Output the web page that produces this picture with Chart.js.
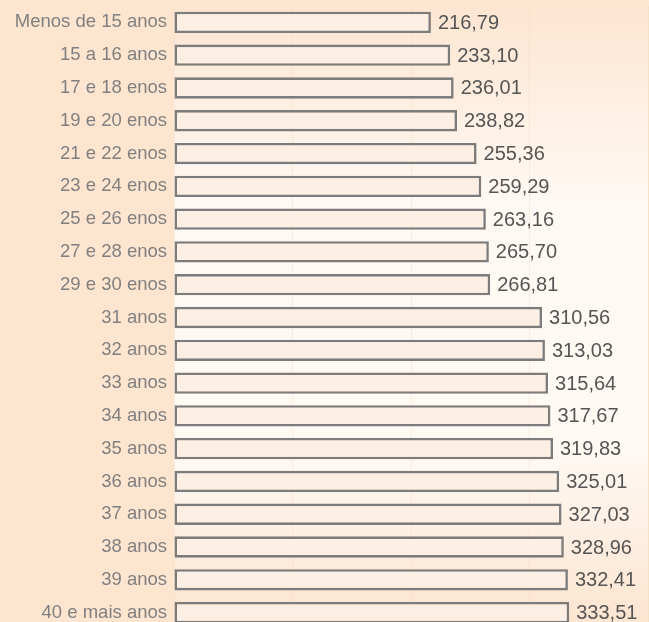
<!DOCTYPE html>
<html>
<head>
<meta charset="utf-8">
<script src="https://cdn.jsdelivr.net/npm/chart.js@4/dist/chart.umd.min.js"></script>
<style>
  html, body { margin: 0; padding: 0; overflow: hidden; background: #fde5d0; }
  #wrap { width: 649px; height: 632px; }
</style>
</head>
<body>
<div id="wrap"><canvas id="chart" width="649" height="632"></canvas></div>
<script>
var ageGroups = [
  "Menos de 15 anos", "15 a 16 anos", "17 e 18 enos", "19 e 20 enos",
  "21 e 22 enos", "23 e 24 enos", "25 e 26 enos", "27 e 28 enos",
  "29 e 30 enos", "31 anos", "32 anos", "33 anos", "34 anos", "35 anos",
  "36 anos", "37 anos", "38 anos", "39 anos", "40 e mais anos"
]
var values = [
  216.79, 233.10, 236.01, 238.82, 255.36, 259.29, 263.16, 265.70, 266.81,
  310.56, 313.03, 315.64, 317.67, 319.83, 325.01, 327.03, 328.96, 332.41, 333.51
]
var axisMin = 0
var axisMax = 400
var axisStep = 100

// light area behind the bars
var plotBackground = {
  id: "plotBackground",
  beforeDraw(chart) {
    var ctx = chart.ctx
    var a = chart.chartArea
    var g = ctx.createLinearGradient(0, 0, 0, 622)
    g.addColorStop(0, "#fde5d0")
    g.addColorStop(0.33, "#fff9f4")
    g.addColorStop(0.72, "#fff9f4")
    g.addColorStop(1, "#fde5d0")
    ctx.save()
    ctx.fillStyle = g
    ctx.fillRect(a.left, a.top, a.right - a.left, a.bottom - a.top)
    ctx.restore()
  }
}

// value labels at the end of each bar
var valueLabels = {
  id: "valueLabels",
  afterDatasetsDraw(chart) {
    var ctx = chart.ctx
    var meta = chart.getDatasetMeta(0)
    ctx.save()
    ctx.font = "20px 'Liberation Sans', Arial, sans-serif"
    ctx.fillStyle = "#555555"
    ctx.textAlign = "left"
    ctx.textBaseline = "middle"
    meta.data.forEach(function(bar, i) {
      ctx.fillText(values[i].toFixed(2).replace(".", ","), bar.x + 7, bar.y + 1)
    })
    ctx.restore()
  }
}

new Chart(document.getElementById("chart"), {
  type: "bar",
  data: {
    labels: ageGroups,
    datasets: [{
      data: values,
      backgroundColor: "#fdefe3",
      borderColor: "#7c7c7c",
      borderWidth: 2.6,
      borderSkipped: false,
      categoryPercentage: 1,
      barPercentage: 0.65
    }]
  },
  options: {
    indexAxis: "y",
    responsive: false,
    devicePixelRatio: 1,
    animation: false,
    layout: { padding: { top: 6, bottom: 3, right: 1, left: 0 } },
    scales: {
      x: {
        min: axisMin,
        max: axisMax,
        ticks: { display: false, stepSize: axisStep },
        grid: { color: "rgba(236, 205, 175, 0.3)", drawTicks: false },
        border: { display: false },
        afterFit(scale) {
          scale.height = 0
          scale.paddingLeft = 0
          scale.paddingRight = 0
        }
      },
      y: {
        grid: { display: false, drawTicks: false },
        border: { display: false },
        ticks: {
          color: "#808080",
          padding: 7,
          font: { family: "'Liberation Sans', Arial, sans-serif", size: 18.5 }
        },
        afterFit(scale) {
          scale.width = 174
          scale.paddingTop = 0
          scale.paddingBottom = 0
        }
      }
    },
    plugins: {
      legend: { display: false },
      tooltip: { enabled: false },
      title: { display: false }
    }
  },
  plugins: [plotBackground, valueLabels]
})
</script>
</body>
</html>
